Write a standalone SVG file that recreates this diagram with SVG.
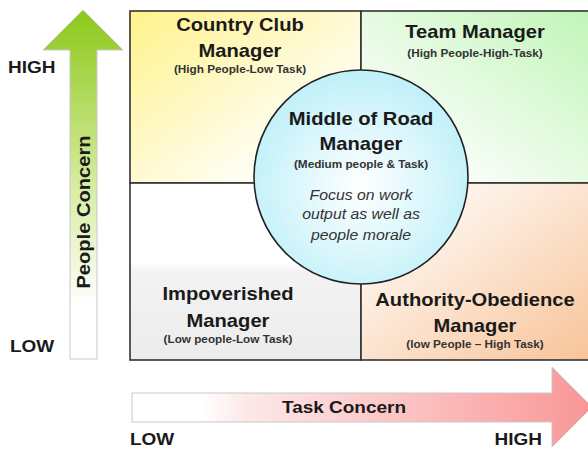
<svg xmlns="http://www.w3.org/2000/svg" width="588" height="450" viewBox="0 0 588 450">
<defs>
<style>
text{font-family:"Liberation Sans",Arial,sans-serif;fill:#1a1a1a;text-anchor:middle}
.t{font-size:18px;font-weight:bold}
.s{font-size:10.5px;font-weight:bold;fill:#333}
.i{font-size:14px;font-style:italic;fill:#333}
.ax{font-size:16.5px;font-weight:bold;text-anchor:start}
.end{text-anchor:end}
.q{stroke:#333;stroke-width:1.6}
</style>
<linearGradient id="gY" x1="0" y1="0" x2="1" y2="1"><stop offset="0" stop-color="#fff28a"/><stop offset="0.7" stop-color="#fffdf0"/><stop offset="1" stop-color="#ffffff"/></linearGradient>
<linearGradient id="gG" x1="1" y1="0" x2="0" y2="1"><stop offset="0" stop-color="#bff5b5"/><stop offset="0.7" stop-color="#f4fdf3"/><stop offset="1" stop-color="#ffffff"/></linearGradient>
<linearGradient id="gO" x1="1" y1="1" x2="0" y2="0"><stop offset="0" stop-color="#f8c296"/><stop offset="0.7" stop-color="#fdf0e5"/><stop offset="1" stop-color="#ffffff"/></linearGradient>
<linearGradient id="gW" x1="0" y1="0" x2="0" y2="1"><stop offset="0" stop-color="#ffffff"/><stop offset="0.45" stop-color="#ffffff"/><stop offset="0.5" stop-color="#f3f3f3"/><stop offset="1" stop-color="#ececec"/></linearGradient>
<radialGradient id="gC" cx="0.5" cy="0.55" r="0.55"><stop offset="0" stop-color="#ffffff"/><stop offset="1" stop-color="#bff0f9"/></radialGradient>
<linearGradient id="gV" x1="0" y1="0" x2="0" y2="1"><stop offset="0" stop-color="#8cc81a"/><stop offset="0.5" stop-color="#d6eca0"/><stop offset="0.85" stop-color="#ffffff"/></linearGradient>
<linearGradient id="gH" x1="0" y1="0" x2="1" y2="0"><stop offset="0" stop-color="#ffffff"/><stop offset="0.15" stop-color="#ffffff"/><stop offset="0.25" stop-color="#fde8e8"/><stop offset="1" stop-color="#f99696"/></linearGradient>
</defs>

<g id="people-axis">
<path d="M70,359 L70,50 L43,50 L83,10 L123,50 L97,50 L97,359 Z" fill="url(#gV)" stroke="#c8c8c8" stroke-width="1"/>
<text transform="translate(90,212) rotate(-90) scale(1.15,1)" style="font-size:17.5px;font-weight:bold">People Concern</text>
<text class="ax" transform="translate(8,73) scale(1.15,1)">HIGH</text>
<text class="ax" transform="translate(10,352) scale(1.15,1)">LOW</text>
</g>

<g id="task-axis">
<path d="M132,393 L552,393 L552,367 L592,407 L552,447 L552,422 L132,422 Z" fill="url(#gH)" stroke="#c8c8c8" stroke-width="1"/>
<text transform="translate(344,413) scale(1.15,1)" style="font-size:16.5px;font-weight:bold">Task Concern</text>
<text class="ax" transform="translate(130,445) scale(1.15,1)">LOW</text>
<text class="ax end" transform="translate(542,445) scale(1.15,1)">HIGH</text>
</g>

<g id="country-club">
<rect class="q" x="130" y="11" width="231" height="172" fill="url(#gY)"/>
<text class="t" transform="translate(240,31) scale(1.12,1)">Country Club</text>
<text class="t" transform="translate(240,57) scale(1.12,1)">Manager</text>
<text class="s" transform="translate(240,73) scale(1.12,1)">(High People-Low Task)</text>
</g>

<g id="team">
<rect class="q" x="361" y="11" width="240" height="172" fill="url(#gG)"/>
<text class="t" transform="translate(475,38) scale(1.12,1)">Team Manager</text>
<text class="s" transform="translate(475,57) scale(1.12,1)">(High People-High-Task)</text>
</g>

<g id="impoverished">
<rect class="q" x="130" y="183" width="231" height="177" fill="url(#gW)"/>
<text class="t" transform="translate(228,300) scale(1.12,1)">Impoverished</text>
<text class="t" transform="translate(228,327) scale(1.12,1)">Manager</text>
<text class="s" transform="translate(228,343) scale(1.12,1)">(Low people-Low Task)</text>
</g>

<g id="authority">
<rect class="q" x="361" y="183" width="240" height="177" fill="url(#gO)"/>
<text class="t" transform="translate(475,306) scale(1.12,1)">Authority-Obedience</text>
<text class="t" transform="translate(475,332) scale(1.12,1)">Manager</text>
<text class="s" transform="translate(475,348) scale(1.12,1)">(low People – High Task)</text>
</g>

<g id="middle">
<circle cx="361" cy="177" r="107" fill="url(#gC)" stroke="#222" stroke-width="1.6"/>
<text class="t" transform="translate(361,125) scale(1.12,1)">Middle of Road</text>
<text class="t" transform="translate(361,150) scale(1.12,1)">Manager</text>
<text class="s" transform="translate(361,168) scale(1.12,1)">(Medium people &amp; Task)</text>
<text class="i" transform="translate(361,200) scale(1.13,1)">Focus on work</text>
<text class="i" transform="translate(361,219) scale(1.13,1)">output as well as</text>
<text class="i" transform="translate(361,240) scale(1.13,1)">people morale</text>
</g>
</svg>
